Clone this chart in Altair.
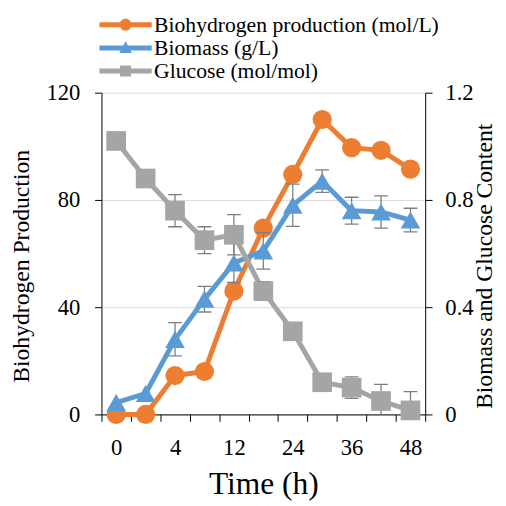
import altair as alt
import pandas as pd

# ---------------- data ----------------
time_labels = ["0", "2", "4", "8", "12", "18", "24", "30", "36", "42", "48"]
biohydrogen = [0, 0, 14.5, 16, 46, 69.5, 89.5, 110, 99.5, 98.5, 91.5]
biomass = [0.044, 0.078, 0.28, 0.43, 0.565, 0.61, 0.78, 0.87, 0.76, 0.755, 0.725]
biomass_err = [0, 0, 0.062, 0.048, 0.073, 0.068, 0.079, 0.042, 0.05, 0.06, 0.044]
glucose = [1.02, 0.88, 0.76, 0.65, 0.67, 0.46, 0.31, 0.12, 0.10, 0.05, 0.015]
glucose_err = [0, 0, 0.06, 0.05, 0.075, 0.035, 0, 0, 0.04, 0.062, 0.07]
series_names = ["Biohydrogen production (mol/L)", "Biomass (g/L)", "Glucose (mol/mol)"]
series_colors = ["#ED7D31", "#5B9BD5", "#A5A5A5"]
left_ticks = [0, 40, 80, 120]
right_ticks = [0, 0.4, 0.8, 1.2]

df = pd.DataFrame({
    "idx": list(range(len(time_labels))),
    "time": time_labels,
    "h2": biohydrogen,
    "bm": biomass,
    "bm_err": biomass_err,
    "gl": glucose,
    "gl_err": glucose_err,
})
legend_df = pd.DataFrame({"series": series_names})

FONT = "Liberation Serif"
W, H = 329, 327
n = len(time_labels)
band = W / n
ERR_COLOR = "#7F7F7F"

# ---------------- axes ----------------
label_arr = "[" + ",".join(f"'{t}'" for t in time_labels) + "]"
x_vals = [i - 0.5 for i in range(n + 1)]
x_label_expr = (f"(datum.value > 0 && round(datum.value - 0.5) % 2 == 0) ? "
                f"{label_arr}[round(datum.value - 0.5)] : ''")

x_axis = alt.Axis(values=x_vals, labelExpr=x_label_expr, labelOffset=-band / 2,
                  labelFlush=False, labelOverlap=False, grid=False,
                  tickSize=7, tickColor="black", domainColor="black",
                  labelFont=FONT, labelFontSize=23, labelColor="black", labelPadding=16,
                  title="Time (h)", titleFont=FONT, titleFontSize=32,
                  titleFontWeight="normal", titleColor="black",
                  titleBaseline="alphabetic", titleY=80)

left_axis = alt.Axis(values=left_ticks, grid=True, gridColor="#D9D9D9", gridWidth=1,
                     tickSize=7, tickColor="black", domainColor="black",
                     labelFont=FONT, labelFontSize=23, labelColor="black", labelPadding=15,
                     title="Biohydrogen Production", titleFont=FONT, titleFontSize=24,
                     titleFontWeight="normal", titleColor="black",
                     titleBaseline="alphabetic", titleX=-74, titleY=176)

right_axis = alt.Axis(orient="right", values=right_ticks, format=".1~f", grid=False,
                      tickSize=7, tickColor="black", domainColor="black",
                      labelFont=FONT, labelFontSize=23, labelColor="black", labelPadding=13,
                      title="Biomass and Glucose Content", titleFont=FONT, titleFontSize=24,
                      titleFontWeight="normal", titleColor="black", titleAngle=270,
                      titleBaseline="alphabetic", titleX=67, titleY=176)

x_scale = alt.Scale(domain=[-0.5, n - 0.5], nice=False, zero=False)
yl_scale = alt.Scale(domain=[0, 120], nice=False)
yr_scale = alt.Scale(domain=[0, 1.2], nice=False)

def X():
    # identical axis definition on every layer so the shared x axis merges cleanly
    return alt.X("idx:Q", scale=x_scale, axis=x_axis)

base = alt.Chart(df)

# ---------------- biohydrogen (left scale) ----------------
h2_line = base.mark_line(color=series_colors[0], strokeWidth=5, strokeJoin="round").encode(
    x=X(), y=alt.Y("h2:Q", scale=yl_scale, axis=left_axis))
h2_pts = base.mark_point(filled=True, shape="circle", size=380, opacity=1,
                         color=series_colors[0]).encode(
    x=X(), y=alt.Y("h2:Q", scale=yl_scale, axis=None))

# ---------------- biomass / glucose (right scale) ----------------
def err_layers(col, ecol):
    b = base.transform_filter(f"datum.{ecol} > 0").transform_calculate(
        lo=f"datum.{col} - datum.{ecol}", hi=f"datum.{col} + datum.{ecol}")
    rule = b.mark_rule(color=ERR_COLOR, strokeWidth=1.3, clip=True).encode(
        x=X(), y=alt.Y("lo:Q", scale=yr_scale, axis=None), y2="hi:Q")
    cap_lo = b.mark_tick(orient="horizontal", color=ERR_COLOR, size=14, thickness=1.3,
                         opacity=1, clip=True).encode(
        x=X(), y=alt.Y("lo:Q", scale=yr_scale, axis=None))
    cap_hi = b.mark_tick(orient="horizontal", color=ERR_COLOR, size=14, thickness=1.3,
                         opacity=1, clip=True).encode(
        x=X(), y=alt.Y("hi:Q", scale=yr_scale, axis=None))
    return [rule, cap_lo, cap_hi]

bm_line = base.mark_line(color=series_colors[1], strokeWidth=5, strokeJoin="round").encode(
    x=X(), y=alt.Y("bm:Q", scale=yr_scale, axis=right_axis))
bm_pts = base.mark_point(filled=True, shape="triangle-up", size=400, opacity=1,
                         color=series_colors[1]).encode(
    x=X(), y=alt.Y("bm:Q", scale=yr_scale, axis=None))
gl_line = base.mark_line(color=series_colors[2], strokeWidth=5, strokeJoin="round").encode(
    x=X(), y=alt.Y("gl:Q", scale=yr_scale, axis=None))
gl_pts = base.mark_point(filled=True, shape="square", size=400, opacity=1,
                         color=series_colors[2]).encode(
    x=X(), y=alt.Y("gl:Q", scale=yr_scale, axis=None))

# legend symbols: line + marker drawn as custom paths
line_part = "M-3.79,-0.36 H3.79 V0.36 H-3.79 Z "
legend_shapes = [
    line_part + "M0.86,0 A0.86,0.86 0 1,1 -0.86,0 A0.86,0.86 0 1,1 0.86,0 Z",
    line_part + "M0,-0.95 L0.9,0.75 L-0.9,0.75 Z",
    line_part + "M-0.8,-0.8 H0.8 V0.8 H-0.8 Z",
]
leg = alt.Legend(orient="none", legendX=13.5, legendY=-80, title=None, padding=0,
                 labelFont=FONT, labelFontSize=22, labelColor="black", labelOffset=18,
                 labelLimit=0, symbolSize=196, symbolOpacity=1, symbolStrokeWidth=0,
                 rowPadding=1.5)
legend_layer = alt.Chart(legend_df).mark_point(filled=True, opacity=0, size=10).encode(
    color=alt.Color("series:N", scale=alt.Scale(domain=series_names, range=series_colors),
                    legend=leg),
    shape=alt.Shape("series:N", scale=alt.Scale(domain=series_names, range=legend_shapes),
                    legend=leg),
    x=alt.value(0), y=alt.value(0))

layers = [h2_line, h2_pts, bm_line, *err_layers("bm", "bm_err"), bm_pts,
          gl_line, *err_layers("gl", "gl_err"), gl_pts, legend_layer]

chart = alt.layer(*layers).resolve_scale(y="independent").properties(
    width=W, height=H,
    padding={"left": 95, "top": 82, "right": 74, "bottom": 89},
    autosize=alt.AutoSizeParams(type="none"),
).configure_view(stroke=None)

chart.save("out.html", embed_options={"renderer": "svg", "actions": False})
